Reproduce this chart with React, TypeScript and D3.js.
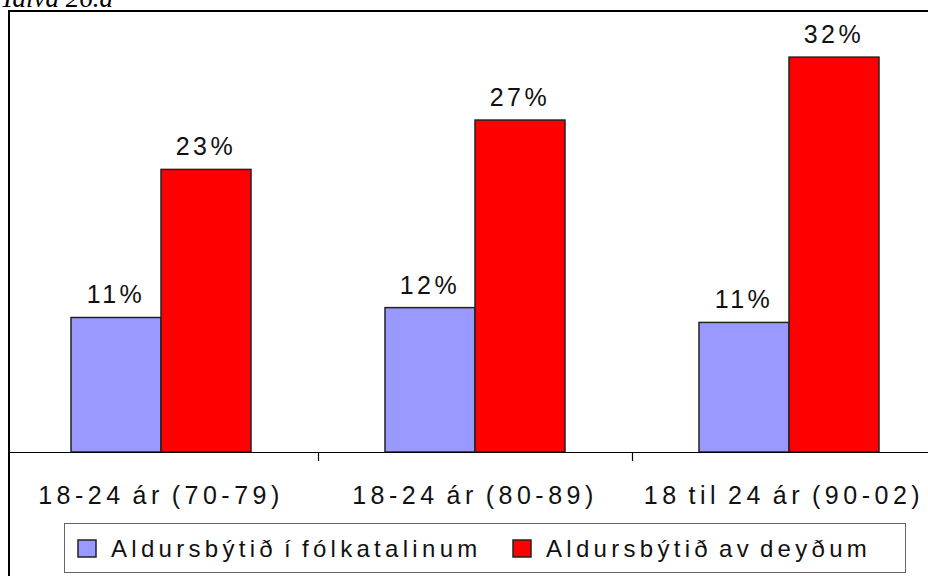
import React from "react";
import * as d3 from "d3";

const categories = ["18-24 ár (70-79)", "18-24 ár (80-89)", "18 til 24 ár (90-02)"];
const seriesNames = ["Aldursbýtið í fólkatalinum", "Aldursbýtið av deyðum"];
const populationValues = [10.9, 11.7, 10.5];
const deathValues = [22.9, 26.9, 32.0];
const populationLabels = ["11%", "12%", "11%"];
const deathLabels = ["23%", "27%", "32%"];
const colors = ["#9999FF", "#FF0000"];
const title = "Talva 26.a";

const W = 928;
const H = 576;
const FONT = "'Liberation Sans', Arial, sans-serif";

export default function App() {
  const baseY = 452;
  const x = d3.scaleBand<string>().domain(categories).range([4, 946]);
  const y = d3.scaleLinear().domain([0, 35]).range([baseY, baseY - 35 * 12.34]);
  const groupW = 180;
  const inner = d3.scaleBand<number>().domain([0, 1]).range([0, groupW]);
  const series = [populationValues, deathValues];
  const labels = [populationLabels, deathLabels];

  return (
    <div style={{ position: "absolute", left: 0, top: 0, width: W, height: H, background: "#fff" }}>
      <svg width={W} height={H} style={{ display: "block" }}>
        <rect x={0} y={0} width={W} height={H} fill="#fff" />
        <text x={0} y={7} fontFamily="'Liberation Serif', 'Times New Roman', serif" fontStyle="italic" fontSize={27}>
          {title}
        </text>
        {/* frame */}
        <line x1={9} x2={W} y1={11} y2={11} stroke="#000" strokeWidth={2} />
        <line x1={9} x2={9} y1={10} y2={H} stroke="#000" strokeWidth={2} />
        {/* bars */}
        {categories.map((c, i) => {
          const gx = (x(c) as number) + (x.bandwidth() - groupW) / 2;
          return (
            <g key={c}>
              {series.map((vals, s) => {
                const bx = gx + (inner(s) as number);
                const top = y(vals[i]);
                return (
                  <g key={s}>
                    <rect
                      x={bx}
                      y={top}
                      width={inner.bandwidth()}
                      height={baseY - top}
                      fill={colors[s]}
                      stroke="#222"
                      strokeWidth={1.5}
                    />
                    <text
                      x={bx + inner.bandwidth() / 2}
                      y={top - 14}
                      textAnchor="middle"
                      fontFamily={FONT}
                      fontSize={25}
                      letterSpacing={3.5}
                      fill="#111"
                    >
                      {labels[s][i]}
                    </text>
                  </g>
                );
              })}
            </g>
          );
        })}
        {/* axis */}
        <line x1={9} x2={W} y1={baseY + 0.5} y2={baseY + 0.5} stroke="#000" strokeWidth={1.2} />
        {categories.slice(1).map((c) => (
          <line
            key={c}
            x1={(x(c) as number) + 0.5}
            x2={(x(c) as number) + 0.5}
            y1={baseY}
            y2={baseY + 9}
            stroke="#000"
            strokeWidth={1.2}
          />
        ))}
        {categories.map((c, i) => (
          <text
            key={c}
            x={(x(c) as number) + x.bandwidth() / 2 - (i === categories.length - 1 ? 5 : 0)}
            y={504}
            textAnchor="middle"
            fontFamily={FONT}
            fontSize={25}
            letterSpacing={4.5}
            wordSpacing={-3.5}
            fill="#111"
          >
            {c}
          </text>
        ))}
        {/* legend */}
        <rect x={64.5} y={523.5} width={841} height={49} fill="#fff" stroke="#666" strokeWidth={1} />
        {seriesNames.map((n, s) => {
          const lx = s === 0 ? 78 : 513;
          return (
            <g key={n}>
              <rect x={lx} y={540} width={18} height={17} fill={colors[s]} stroke="#222" strokeWidth={1.5} />
              <text x={lx + 33} y={557} fontFamily={FONT} fontSize={24} letterSpacing={4.3} wordSpacing={-4} fill="#111">
                {n}
              </text>
            </g>
          );
        })}
      </svg>
    </div>
  );
}
